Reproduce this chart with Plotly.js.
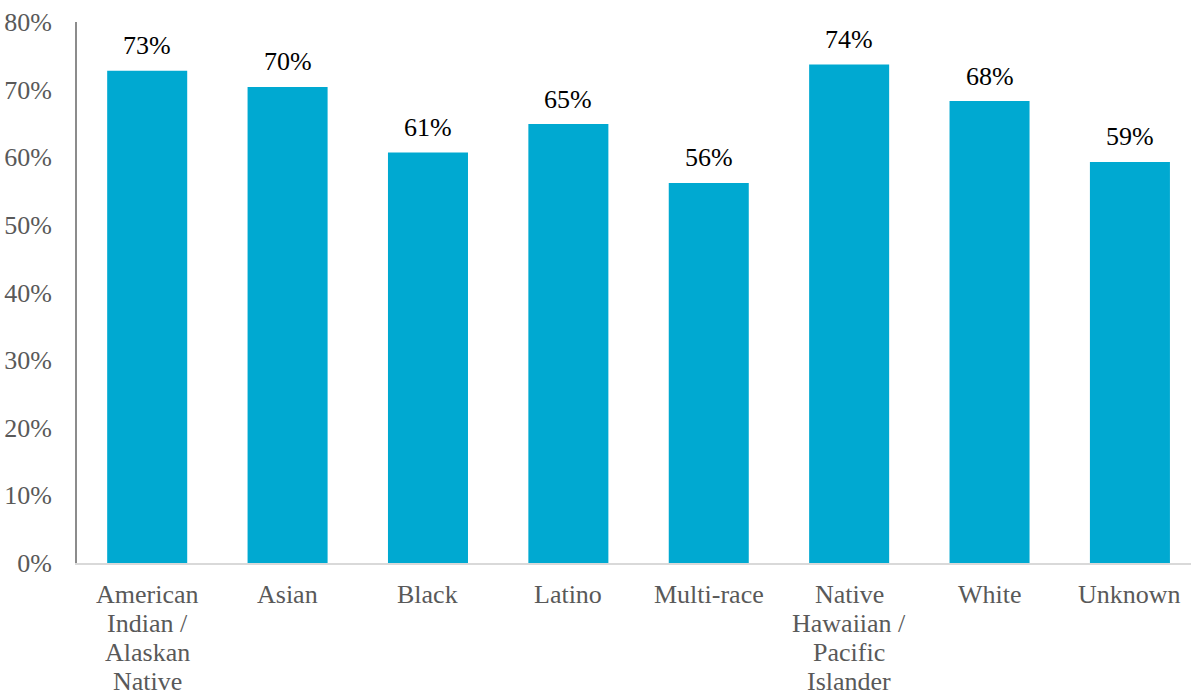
<!DOCTYPE html>
<html>
<head>
<meta charset="utf-8">
<script src="https://cdn.plot.ly/plotly-3.0.1.min.js"></script>
<style>html,body{margin:0;padding:0;background:#fff;overflow:hidden;}#chart{width:1191px;height:696px;}</style>
</head>
<body>
<div id="chart"></div>
<script>
const categories = ["American<br>Indian /<br>Alaskan<br>Native", "Asian", "Black", "Latino", "Multi-race", "Native<br>Hawaiian /<br>Pacific<br>Islander", "White", "Unknown"];
const values = [0.728, 0.704, 0.607, 0.649, 0.562, 0.737, 0.683, 0.593];
const labels = ["73%", "70%", "61%", "65%", "56%", "74%", "68%", "59%"];
const tickVals = [0, 0.1, 0.2, 0.3, 0.4, 0.5, 0.6, 0.7, 0.8];
const tickText = ["0%", "10%", "20%", "30%", "40%", "50%", "60%", "70%", "80%"];

const font = "'Liberation Serif', 'Times New Roman', serif";
const fs = 26;

const trace = {
  type: "bar",
  x: categories,
  y: values,
  marker: {color: "#00A9D1"},
  hoverinfo: "skip"
};

const annotations = categories.map((c, i) => ({
  x: c, y: values[i], xref: "x", yref: "y",
  text: labels[i], showarrow: false,
  yanchor: "middle", yshift: 25,
  font: {family: font, size: fs, color: "#000000"}
}));

// category labels, one annotation per line for tighter line spacing
categories.forEach((c) => {
  c.split("<br>").forEach((line, j) => {
    annotations.push({
      x: c, y: 0, xref: "x", yref: "y",
      text: line, showarrow: false,
      yanchor: "middle", yshift: -31 - 29 * j,
      font: {family: font, size: fs, color: "#595959"}
    });
  });
});

const layout = {
  width: 1191, height: 696,
  margin: {l: 77, r: 0, t: 22, b: 133},
  paper_bgcolor: "#ffffff", plot_bgcolor: "#ffffff",
  bargap: 0.43,
  showlegend: false,
  font: {family: font, size: fs, color: "#595959"},
  xaxis: {
    type: "category",
    range: [-0.5, 7.435],
    showline: true, linecolor: "#d9d9d9", linewidth: 2,
    showgrid: false, ticks: "", zeroline: false,
    showticklabels: false,
    automargin: false
  },
  yaxis: {
    range: [0, 0.8],
    tickvals: tickVals, ticktext: tickText,
    showline: true, linecolor: "#8c8c8c", linewidth: 2,
    showgrid: false, zeroline: false, ticks: "",
    ticklabelstandoff: 18,
    tickfont: {family: font, size: fs, color: "#595959"},
    automargin: false
  },
  annotations: annotations
};

Plotly.newPlot("chart", [trace], layout, {displayModeBar: false, staticPlot: true});
</script>
</body>
</html>
